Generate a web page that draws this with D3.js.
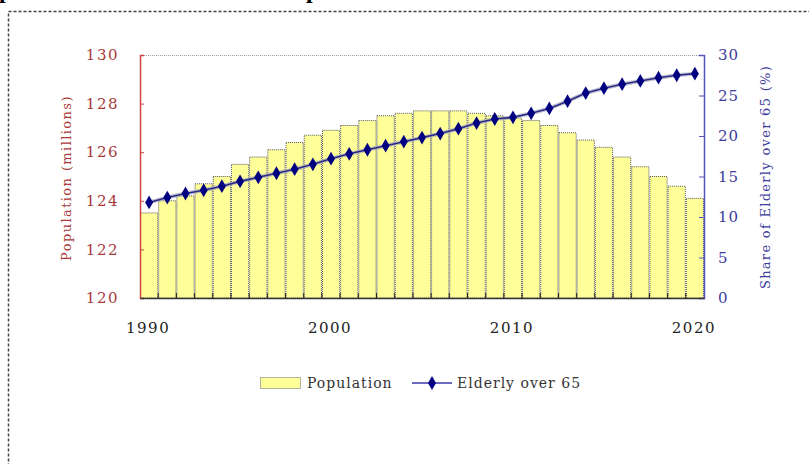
<!DOCTYPE html>
<html>
<head>
<meta charset="utf-8">
<script src="https://cdn.jsdelivr.net/npm/d3@7"></script>
<style>
html,body{margin:0;padding:0;background:#fff;overflow:hidden;}
svg{display:block;}
</style>
</head>
<body>
<svg id="chart" width="809" height="464"></svg>
<script>
const years = d3.range(1990, 2021);
const population = [123.5,124.0,124.2,124.7,125.0,125.5,125.8,126.1,126.4,126.7,126.9,127.1,127.3,127.5,127.6,127.7,127.7,127.7,127.6,127.5,127.4,127.3,127.1,126.8,126.5,126.2,125.8,125.4,125.0,124.6,124.1];
const elderly = [11.8,12.4,12.9,13.3,13.8,14.4,14.9,15.4,15.9,16.5,17.2,17.8,18.3,18.8,19.3,19.8,20.3,20.9,21.6,22.1,22.3,22.8,23.4,24.3,25.3,25.9,26.4,26.8,27.2,27.5,27.7];
const leftTicks = [120,122,124,126,128,130];
const rightTicks = [0,5,10,15,20,25,30];
const xTickLabels = [1990,2000,2010,2020];
const seriesNames = ["Population","Elderly over 65"];
const leftTitle = "Population (millions)";
const rightTitle = "Share of Elderly over 65 (%)";

const svg = d3.select("#chart");
const L = 140, R = 704, T = 55, B = 298;
const serif = "'DejaVu Serif', 'Liberation Serif', serif";
const red = "#a83a3a", blue = "#3c3c9c";

// title fragments (cut off at top of picture, as in the reference)
svg.append("text").attr("x", -1).attr("y", -2)
  .style("font-family","'Liberation Serif', serif").style("font-weight","bold").style("font-size","24px").text("p");
svg.append("text").attr("x", 306).attr("y", -2)
  .style("font-family","'Liberation Serif', serif").style("font-weight","bold").style("font-size","24px").text("p");

// outer dashed frame
svg.append("rect").attr("x", 8.5).attr("y", 11.5).attr("width", 900).attr("height", 600)
  .attr("fill","none").attr("stroke","#444").attr("stroke-width",1.5).attr("stroke-dasharray","3,2");

const x = d3.scaleBand().domain(years).range([L, R]).padding(0);
const yL = d3.scaleLinear().domain([120,130]).range([B, T]);
const yR = d3.scaleLinear().domain([0,30]).range([B, T]);

// top frame line
svg.append("line").attr("x1", L).attr("x2", R).attr("y1", T + 0.5).attr("y2", T + 0.5)
  .attr("stroke","#999").attr("stroke-dasharray","1,1");

// bars
svg.append("g").selectAll("rect").data(years).join("rect")
  .attr("x", d => x(d) + 0.5)
  .attr("y", (d,i) => yL(population[i]))
  .attr("width", x.bandwidth() - 1)
  .attr("height", (d,i) => B - yL(population[i]))
  .attr("fill", "#ffff99")
  .attr("stroke", "#555")
  .attr("stroke-width", 1)
  .attr("stroke-dasharray", "1,1");

// left axis
const gL = svg.append("g").attr("transform", `translate(${L},0)`)
  .call(d3.axisRight(yL).tickValues(leftTicks).tickSize(4).tickFormat(""));
gL.select(".domain").attr("stroke", "#cc4444").attr("stroke-width", 1.5);
gL.selectAll(".tick line").attr("stroke", "#cc4444");
svg.append("g").selectAll("text").data(leftTicks).join("text")
  .attr("x", 119).attr("y", d => yL(d)).attr("dy","0.35em")
  .attr("text-anchor","end").attr("fill", red).style("letter-spacing","1.5px")
  .style("font-family", serif).style("font-size","15px").text(d => d);

// right axis
const gR = svg.append("g").attr("transform", `translate(${R},0)`)
  .call(d3.axisLeft(yR).tickValues(rightTicks).tickSize(5).tickFormat(""));
gR.select(".domain").attr("stroke", "#5555bb").attr("stroke-width", 1.5);
gR.selectAll(".tick line").attr("stroke", "#5555bb");
svg.append("g").selectAll("text").data(rightTicks).join("text")
  .attr("x", 718).attr("y", d => yR(d)).attr("dy","0.35em")
  .attr("text-anchor","start").attr("fill", blue).style("letter-spacing","1px")
  .style("font-family", serif).style("font-size","15px").text(d => d);

// bottom axis
const gB = svg.append("g").attr("transform", `translate(0,${B})`)
  .call(d3.axisTop(x).tickValues([]).tickSizeOuter(0));
gB.select(".domain").attr("stroke", "#333").attr("stroke-width", 1.5);
svg.append("g").selectAll("line").data(years.slice(1)).join("line")
  .attr("x1", d => x(d)).attr("x2", d => x(d)).attr("y1", B).attr("y2", B - 5)
  .attr("stroke", "#222");
svg.append("g").selectAll("text").data(xTickLabels).join("text")
  .attr("x", d => x(d) + x.bandwidth()/2 - 1).attr("y", 328).attr("dy","0.35em")
  .attr("text-anchor","middle").attr("fill","#222").style("letter-spacing","1.5px")
  .style("font-family", serif).style("font-size","15px").text(d => d);

// elderly line
const line = d3.line().x((d,i) => x(years[i]) + x.bandwidth()/2).y(d => yR(d));
svg.append("path").datum(elderly).attr("d", line).attr("fill","none")
  .attr("stroke","#aaaabb").attr("stroke-width",4).attr("opacity",0.7);
svg.append("path").datum(elderly).attr("d", line).attr("fill","none")
  .attr("stroke","#2a2a8a").attr("stroke-width",1.6);
const diamond = d3.symbol().type(d3.symbolDiamond).size(55);
svg.append("g").selectAll("path").data(elderly).join("path")
  .attr("transform", (d,i) => `translate(${x(years[i]) + x.bandwidth()/2},${yR(d)})`)
  .attr("d", diamond).attr("fill", "#000080");

// axis titles
svg.append("text").attr("transform","translate(71,178) rotate(-90)")
  .attr("text-anchor","middle").attr("fill", red).style("letter-spacing","1.4px")
  .style("font-family", serif).style("font-size","13px").text(leftTitle);
svg.append("text").attr("transform","translate(770,177) rotate(-90)")
  .attr("text-anchor","middle").attr("fill", blue).style("letter-spacing","1.3px")
  .style("font-family", serif).style("font-size","13px").text(rightTitle);

// legend
svg.append("rect").attr("x", 260.5).attr("y", 377.5).attr("width", 40).attr("height", 11)
  .attr("fill","#ffff99").attr("stroke","#666").attr("stroke-dasharray","1,1");
svg.append("text").attr("x", 307).attr("y", 383).attr("dy","0.35em").attr("fill","#333")
  .style("letter-spacing","1px")
  .style("font-family", serif).style("font-size","14px").text(seriesNames[0]);
svg.append("line").attr("x1", 412).attr("x2", 452).attr("y1", 383).attr("y2", 383)
  .attr("stroke","#3a3aaa").attr("stroke-width",1.6);
svg.append("path").attr("transform","translate(432,383)").attr("d", diamond).attr("fill","#000080");
svg.append("text").attr("x", 457).attr("y", 383).attr("dy","0.35em").attr("fill","#333")
  .style("letter-spacing","1px")
  .style("font-family", serif).style("font-size","14px").text(seriesNames[1]);
</script>
</body>
</html>
